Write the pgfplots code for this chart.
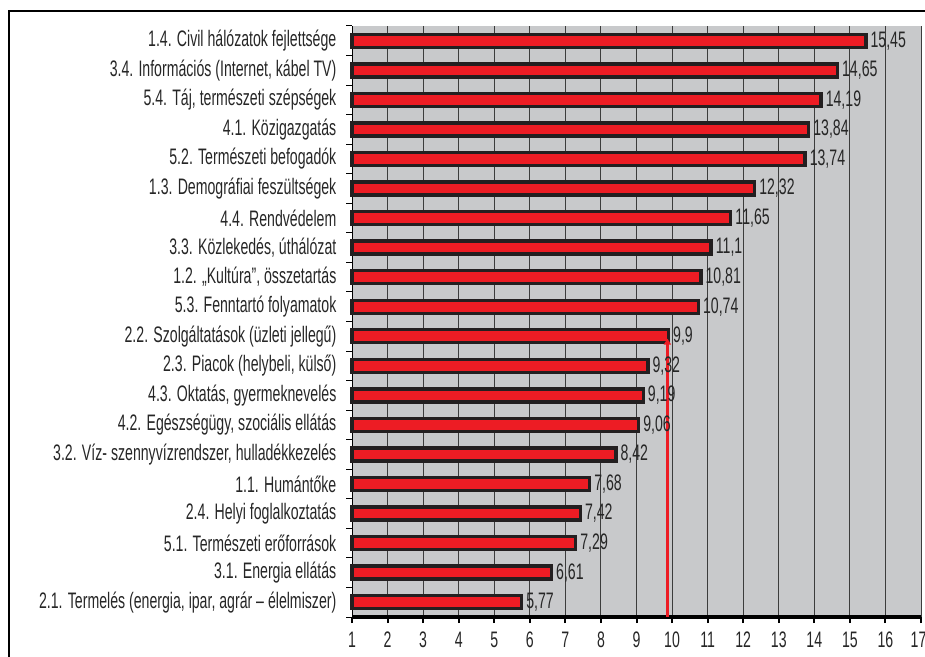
\documentclass[border=0pt]{standalone}
\usepackage{pgfplots}
\pgfplotsset{compat=1.18}
\usepackage{pgfplotstable}
\usetikzlibrary{arrows.meta}
\usepackage{fontspec}
\setmainfont{Liberation Sans}[FakeStretch=0.63]
\definecolor{barred}{HTML}{ED1C24}
\definecolor{bord}{HTML}{231F20}
\definecolor{bggray}{HTML}{C8C9CB}
\definecolor{gridc}{HTML}{3C3C3C}
\pgfplotstableread{
y val label
0 5.77 {5,77}
1 6.61 {6,61}
2 7.29 {7,29}
3 7.42 {7,42}
4 7.68 {7,68}
5 8.42 {8,42}
6 9.06 {9,06}
7 9.19 {9,19}
8 9.32 {9,32}
9 9.9 {9,9}
10 10.74 {10,74}
11 10.81 {10,81}
12 11.1 {11,1}
13 11.65 {11,65}
14 12.32 {12,32}
15 13.74 {13,74}
16 13.84 {13,84}
17 14.19 {14,19}
18 14.65 {14,65}
19 15.45 {15,45}
}\datatable
\begin{document}
\fontsize{22.5}{26}\selectfont
\begin{tikzpicture}
\useasboundingbox (0,0) rectangle (925bp,657bp);
\draw[line width=1.5bp, black] (9bp,0) -- (9bp,646bp) -- (925bp,646bp);
\begin{axis}[
  at={(352bp,40bp)}, anchor=south west,
  scale only axis, width=569bp, height=591bp,
  xmin=0, xmax=16, ymin=-0.5, ymax=19.5,
  axis background/.style={fill=bggray},
  axis x line*=bottom, axis y line*=left,
  x axis line style={line width=3bp, black},
  y axis line style={line width=1bp, black},
  xtick={0,...,16}, xticklabels={1,2,3,4,5,6,7,8,9,10,11,12,13,14,15,16,{\hspace*{-5bp}17}},
  ytick={0,...,19},
  yticklabels={{2.1. Termelés (energia, ipar, agrár – élelmiszer)},
    {3.1. Energia ellátás},
    {5.1. Természeti erőforrások},
    {2.4. Helyi foglalkoztatás},
    {1.1. Humántőke},
    {3.2. Víz- szennyvízrendszer, hulladékkezelés},
    {4.2. Egészségügy, szociális ellátás},
    {4.3. Oktatás, gyermeknevelés},
    {2.3. Piacok (helybeli, külső)},
    {2.2. Szolgáltatások (üzleti jellegű)},
    {5.3. Fenntartó folyamatok},
    {1.2. „Kultúra”, összetartás},
    {3.3. Közlekedés, úthálózat},
    {4.4. Rendvédelem},
    {1.3. Demográfiai feszültségek},
    {5.2. Természeti befogadók},
    {4.1. Közigazgatás},
    {5.4. Táj, természeti szépségek},
    {3.4. Információs (Internet, kábel TV)},
    {1.4. Civil hálózatok fejlettsége}},
  minor ytick={-0.5,0.5,...,19.5},
  tick align=outside,
  major tick length=6bp, minor tick length=6bp,
  major y tick style={draw=none},
  minor y tick style={black, line width=1bp},
  major x tick style={black, line width=2bp},
  xmajorgrids, major x grid style={gridc, line width=0.9bp},
  /pgf/number format/assume math mode=true,
  ticklabel style={font=\fontsize{22.5}{26}\selectfont, text=black!85},
  yticklabel style={xshift=-2bp},
  xticklabel style={yshift=-1bp},
  clip=false,
]
\addplot[xbar, bar width=13bp, fill=barred, draw=bord, line width=3.4bp,
  point meta=explicit symbolic,
  nodes near coords,
  every node near coord/.append style={anchor=west, font=\fontsize{22.5}{26}\selectfont, text=black!85, inner sep=1bp, xshift=2bp}]
  table[x expr=\thisrow{val}-1, y=y, meta=label] {\datatable};
\addplot[barred, line width=2.2bp, -{Triangle[width=7bp,length=6bp]}] coordinates {(8.87,-0.5) (8.87,8.92)};
\end{axis}
\end{tikzpicture}
\end{document}
